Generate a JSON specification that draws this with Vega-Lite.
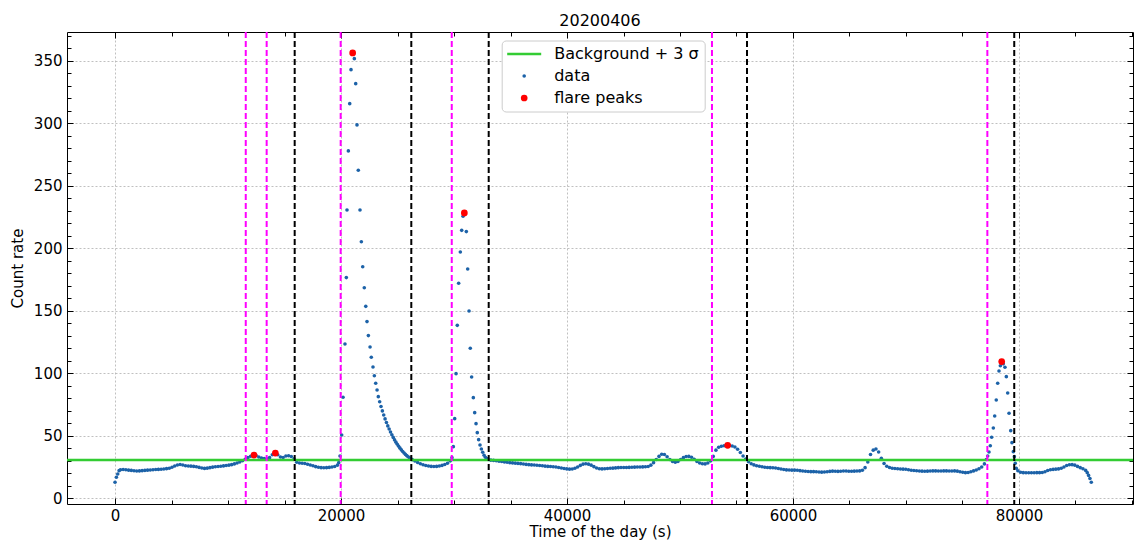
{
  "$schema": "https://vega.github.io/schema/vega-lite/v6.json",
  "width": 1066,
  "height": 472,
  "autosize": {"type": "none"},
  "padding": {"left": 67, "top": 32, "right": 2, "bottom": 39},
  "background": "white",
  "title": {"text": "20200406", "font": "DejaVu Sans", "fontSize": 16, "fontWeight": "normal", "color": "black", "offset": 0},
  "config": {
    "view": {"stroke": null},
    "axis": {"labelFont": "DejaVu Sans", "labelFontSize": 15, "labelColor": "black", "titleFont": "DejaVu Sans", "titleFontSize": 15, "titleFontWeight": "normal", "titleColor": "black", "domainColor": "black", "domainWidth": 1, "tickColor": "black", "tickWidth": 1},
    "legend": {"labelFont": "DejaVu Sans", "labelFontSize": 16, "labelColor": "black"}
  },
  "datasets": {
    "lc": [
      {"t":0,"c":12.8},{"t":120,"c":16.8},{"t":240,"c":19.4},{"t":360,"c":22.1},{"t":480,"c":22.8},{"t":720,"c":23.0},{"t":960,"c":22.8},{"t":1200,"c":22.5},{"t":1440,"c":22.3},{"t":1680,"c":22.0},{"t":1920,"c":21.8},{"t":2160,"c":21.9},{"t":2400,"c":22.1},{"t":2640,"c":22.3},{"t":2880,"c":22.5},{"t":3120,"c":22.6},{"t":3360,"c":22.8},{"t":3600,"c":23.0},{"t":3840,"c":23.1},{"t":4080,"c":23.2},{"t":4320,"c":23.4},{"t":4560,"c":23.7},{"t":4800,"c":24.0},{"t":5040,"c":24.8},{"t":5280,"c":25.8},{"t":5520,"c":26.6},{"t":5760,"c":27.0},{"t":6000,"c":26.6},{"t":6240,"c":26.0},{"t":6480,"c":25.8},{"t":6720,"c":25.7},{"t":6960,"c":25.5},{"t":7200,"c":25.2},{"t":7440,"c":24.7},{"t":7680,"c":24.2},{"t":7920,"c":23.9},{"t":8160,"c":24.1},{"t":8400,"c":24.5},{"t":8640,"c":24.9},{"t":8880,"c":25.2},{"t":9120,"c":25.4},{"t":9360,"c":25.6},{"t":9600,"c":25.9},{"t":9840,"c":26.2},{"t":10080,"c":26.5},{"t":10320,"c":26.9},{"t":10560,"c":27.5},{"t":10800,"c":28.2},{"t":11040,"c":29.0},{"t":11280,"c":30.0},{"t":11520,"c":31.2},{"t":11760,"c":32.5},{"t":12000,"c":33.6},{"t":12240,"c":34.3},{"t":12480,"c":34.2},{"t":12720,"c":33.0},{"t":12960,"c":32.2},{"t":13200,"c":31.8},{"t":13440,"c":31.6},{"t":13680,"c":32.5},{"t":13920,"c":34.8},{"t":14160,"c":35.8},{"t":14400,"c":34.8},{"t":14640,"c":33.0},{"t":14880,"c":32.6},{"t":15120,"c":33.8},{"t":15360,"c":34.0},{"t":15600,"c":33.4},{"t":15840,"c":31.5},{"t":16080,"c":28.8},{"t":16320,"c":28.2},{"t":16560,"c":28.0},{"t":16800,"c":27.8},{"t":17040,"c":27.2},{"t":17280,"c":26.6},{"t":17520,"c":26.0},{"t":17760,"c":25.3},{"t":18000,"c":24.8},{"t":18240,"c":24.5},{"t":18480,"c":24.4},{"t":18720,"c":24.5},{"t":18960,"c":24.7},{"t":19200,"c":25.0},{"t":19440,"c":25.4},{"t":19680,"c":26.5},{"t":19800,"c":28.5},{"t":19910,"c":33.8},
      {"t":20060,"c":50.6},{"t":20180,"c":80.8},{"t":20350,"c":123.4},{"t":20470,"c":176.5},{"t":20530,"c":230.6},{"t":20650,"c":277.8},{"t":20770,"c":315.6},{"t":20885,"c":342.8},{"t":21030,"c":356.2},{"t":21180,"c":351.6},{"t":21300,"c":331.6},{"t":21415,"c":298.6},{"t":21530,"c":262.3},{"t":21680,"c":230.6},{"t":21800,"c":205.2},{"t":21920,"c":185.2},{"t":22060,"c":168.4},{"t":22190,"c":153.5},{"t":22300,"c":141.3},{"t":22420,"c":130.1},{"t":22570,"c":121.0},{"t":22680,"c":112.8},{"t":22830,"c":105.0},{"t":22950,"c":98.0},{"t":23070,"c":92.0},{"t":23190,"c":86.6},{"t":23300,"c":81.3},{"t":23420,"c":77.2},{"t":23540,"c":73.4},{"t":23660,"c":69.9},{"t":23780,"c":66.6},{"t":23900,"c":63.5},{"t":24020,"c":60.6},{"t":24140,"c":57.9},{"t":24260,"c":55.4},{"t":24380,"c":53.0},{"t":24500,"c":50.8},{"t":24620,"c":48.7},{"t":24740,"c":46.7},{"t":24860,"c":44.9},{"t":24980,"c":43.2},{"t":25100,"c":41.6},{"t":25220,"c":40.1},{"t":25340,"c":38.7},{"t":25460,"c":37.4},{"t":25580,"c":36.2},{"t":25700,"c":35.1},{"t":25820,"c":34.1},{"t":25940,"c":33.2},{"t":26060,"c":32.4},{"t":26180,"c":31.6},{"t":26300,"c":30.9},{"t":26540,"c":29.8},{"t":26780,"c":28.6},{"t":27020,"c":27.6},{"t":27260,"c":26.8},{"t":27500,"c":26.2},{"t":27740,"c":25.8},{"t":27980,"c":25.5},{"t":28220,"c":25.4},{"t":28460,"c":25.5},{"t":28700,"c":25.8},{"t":28940,"c":26.3},{"t":29180,"c":27.0},{"t":29420,"c":28.0},{"t":29660,"c":29.8},
      {"t":29820,"c":32.5},{"t":29940,"c":41.3},{"t":30060,"c":63.7},{"t":30180,"c":99.7},{"t":30290,"c":138.3},{"t":30410,"c":172.0},{"t":30560,"c":197.0},{"t":30680,"c":214.3},{"t":30800,"c":225.5},{"t":30945,"c":228.0},{"t":31090,"c":213.3},{"t":31210,"c":183.4},{"t":31330,"c":149.8},{"t":31440,"c":120.0},{"t":31560,"c":97.0},{"t":31710,"c":80.5},{"t":31830,"c":68.5},{"t":31950,"c":59.7},{"t":32060,"c":52.5},{"t":32180,"c":46.9},{"t":32300,"c":42.6},{"t":32420,"c":39.4},{"t":32540,"c":36.8},{"t":32660,"c":34.4},{"t":32780,"c":32.8},{"t":32900,"c":31.8},{"t":33020,"c":31.0},
      {"t":33260,"c":30.5},{"t":33500,"c":30.3},{"t":33740,"c":30.0},{"t":33980,"c":29.7},{"t":34220,"c":29.4},{"t":34460,"c":29.1},{"t":34700,"c":28.8},{"t":34940,"c":28.5},{"t":35180,"c":28.3},{"t":35420,"c":28.1},{"t":35660,"c":27.9},{"t":35900,"c":27.7},{"t":36140,"c":27.4},{"t":36380,"c":27.1},{"t":36620,"c":26.9},{"t":36860,"c":26.7},{"t":37100,"c":26.6},{"t":37340,"c":26.4},{"t":37580,"c":26.2},{"t":37820,"c":26.0},{"t":38060,"c":25.7},{"t":38300,"c":25.5},{"t":38540,"c":25.4},{"t":38780,"c":25.2},{"t":39020,"c":25.0},{"t":39260,"c":24.6},{"t":39500,"c":24.2},{"t":39740,"c":23.8},{"t":39980,"c":23.5},{"t":40220,"c":23.3},{"t":40460,"c":23.4},{"t":40700,"c":24.0},{"t":40940,"c":25.0},{"t":41180,"c":26.3},{"t":41420,"c":27.3},{"t":41660,"c":27.6},{"t":41900,"c":27.3},{"t":42140,"c":26.5},{"t":42380,"c":25.3},{"t":42620,"c":24.2},{"t":42860,"c":23.6},{"t":43100,"c":23.5},{"t":43340,"c":23.6},{"t":43580,"c":23.8},{"t":43820,"c":24.0},{"t":44060,"c":24.1},{"t":44300,"c":24.3},{"t":44540,"c":24.5},{"t":44780,"c":24.6},{"t":45020,"c":24.6},{"t":45260,"c":24.6},{"t":45500,"c":24.7},{"t":45740,"c":24.8},{"t":45980,"c":24.9},{"t":46220,"c":25.0},{"t":46460,"c":25.0},{"t":46700,"c":25.1},{"t":46940,"c":25.2},{"t":47180,"c":25.4},{"t":47420,"c":26.5},{"t":47660,"c":28.5},{"t":47900,"c":31.0},{"t":48140,"c":33.5},{"t":48380,"c":35.2},{"t":48620,"c":35.0},{"t":48860,"c":33.2},{"t":49100,"c":31.0},{"t":49340,"c":29.5},{"t":49580,"c":28.8},{"t":49820,"c":29.5},{"t":50060,"c":31.0},{"t":50300,"c":32.5},{"t":50540,"c":33.4},{"t":50780,"c":33.5},{"t":51020,"c":32.8},{"t":51260,"c":31.2},{"t":51500,"c":29.5},{"t":51740,"c":28.2},{"t":51980,"c":27.6},{"t":52220,"c":27.5},{"t":52460,"c":28.2},{"t":52700,"c":29.8},{"t":52940,"c":33.5},{"t":53180,"c":38.5},{"t":53420,"c":40.8},{"t":53660,"c":41.6},{"t":53900,"c":42.0},{"t":54140,"c":42.3},{"t":54380,"c":42.2},{"t":54620,"c":41.8},{"t":54860,"c":41.0},{"t":55100,"c":39.2},{"t":55340,"c":36.6},{"t":55580,"c":33.8},{"t":55820,"c":31.4},{"t":56060,"c":29.2},{"t":56300,"c":27.6},{"t":56540,"c":26.7},{"t":56780,"c":26.0},{"t":57020,"c":25.6},{"t":57260,"c":25.2},{"t":57500,"c":24.8},{"t":57740,"c":24.6},{"t":57980,"c":24.5},{"t":58220,"c":24.4},{"t":58460,"c":24.2},{"t":58700,"c":23.8},{"t":58940,"c":23.4},{"t":59180,"c":23.0},{"t":59420,"c":22.7},{"t":59660,"c":22.6},{"t":59900,"c":22.5},{"t":60140,"c":22.5},{"t":60380,"c":22.4},{"t":60620,"c":22.1},{"t":60860,"c":21.8},{"t":61100,"c":21.6},{"t":61340,"c":21.4},{"t":61580,"c":21.3},{"t":61820,"c":21.3},{"t":62060,"c":21.2},{"t":62300,"c":21.0},{"t":62540,"c":20.9},{"t":62780,"c":21.0},{"t":63020,"c":21.2},{"t":63260,"c":21.5},{"t":63500,"c":21.7},{"t":63740,"c":21.6},{"t":63980,"c":21.5},{"t":64220,"c":21.6},{"t":64460,"c":21.8},{"t":64700,"c":21.8},{"t":64940,"c":21.6},{"t":65180,"c":21.6},{"t":65420,"c":21.7},{"t":65660,"c":21.8},{"t":65900,"c":21.9},{"t":66140,"c":22.4},{"t":66380,"c":24.5},{"t":66620,"c":29.0},{"t":66860,"c":35.0},{"t":67100,"c":38.5},{"t":67340,"c":39.4},{"t":67580,"c":37.0},{"t":67820,"c":32.0},{"t":68060,"c":27.8},{"t":68300,"c":25.6},{"t":68540,"c":24.6},{"t":68780,"c":24.0},{"t":69020,"c":23.8},{"t":69260,"c":23.6},{"t":69500,"c":23.4},{"t":69740,"c":23.3},{"t":69980,"c":23.2},{"t":70220,"c":22.8},{"t":70460,"c":22.4},{"t":70700,"c":22.2},{"t":70940,"c":22.0},{"t":71180,"c":21.8},{"t":71420,"c":21.7},{"t":71660,"c":21.6},{"t":71900,"c":21.7},{"t":72140,"c":21.8},{"t":72380,"c":21.9},{"t":72620,"c":21.9},{"t":72860,"c":21.8},{"t":73100,"c":21.8},{"t":73340,"c":21.9},{"t":73580,"c":21.9},{"t":73820,"c":21.8},{"t":74060,"c":21.8},{"t":74300,"c":21.9},{"t":74540,"c":21.7},{"t":74780,"c":21.2},{"t":75020,"c":20.8},{"t":75260,"c":20.5},{"t":75500,"c":20.6},{"t":75740,"c":21.2},{"t":75980,"c":21.9},{"t":76220,"c":22.6},{"t":76460,"c":23.6},{"t":76700,"c":25.0},{"t":76940,"c":27.5},{"t":77110,"c":31.0},
      {"t":77230,"c":33.8},{"t":77345,"c":37.0},{"t":77460,"c":42.0},{"t":77580,"c":48.8},{"t":77730,"c":56.2},{"t":77850,"c":65.8},{"t":77990,"c":78.6},{"t":78115,"c":92.0},{"t":78230,"c":101.8},{"t":78350,"c":106.0},{"t":78470,"c":109.3},{"t":78610,"c":107.5},{"t":78760,"c":104.8},{"t":78880,"c":97.3},{"t":79000,"c":84.2},{"t":79120,"c":68.0},{"t":79270,"c":54.1},{"t":79380,"c":44.5},{"t":79500,"c":37.3},{"t":79590,"c":33.3},{"t":79670,"c":28.0},{"t":79760,"c":24.0},
      {"t":79900,"c":22.0},{"t":80140,"c":20.8},{"t":80380,"c":20.5},{"t":80620,"c":20.4},{"t":80860,"c":20.4},{"t":81100,"c":20.4},{"t":81340,"c":20.4},{"t":81580,"c":20.5},{"t":81820,"c":20.5},{"t":82060,"c":20.6},{"t":82300,"c":21.2},{"t":82540,"c":22.2},{"t":82780,"c":22.8},{"t":83020,"c":23.1},{"t":83260,"c":23.3},{"t":83500,"c":23.5},{"t":83740,"c":24.0},{"t":83980,"c":25.0},{"t":84220,"c":26.2},{"t":84460,"c":26.8},{"t":84700,"c":26.9},{"t":84940,"c":26.5},{"t":85180,"c":25.5},{"t":85420,"c":24.5},{"t":85660,"c":23.6},{"t":85900,"c":22.3},{"t":86040,"c":20.5},{"t":86160,"c":18.3},{"t":86280,"c":15.8},{"t":86400,"c":12.8}
    ],
    "peaks": [
      {"t":12300,"c":34.6},{"t":14190,"c":36.2},{"t":21030,"c":356.2},{"t":30915,"c":228.2},{"t":54220,"c":42.4},{"t":78470,"c":109.3}
    ],
    "bg": [{"c": 30.7}],
    "vl": [
      {"t":11570,"k":"start"},{"t":13420,"k":"start"},{"t":19970,"k":"start"},{"t":29800,"k":"start"},{"t":52830,"k":"start"},{"t":77200,"k":"start"},
      {"t":15900,"k":"end"},{"t":26220,"k":"end"},{"t":33070,"k":"end"},{"t":55930,"k":"end"},{"t":79580,"k":"end"}
    ]
  },
  "layer": [
    {
      "data": {"name": "lc"},
      "mark": {"type": "circle", "size": 13, "opacity": 1},
      "encoding": {
        "x": {"field": "t", "type": "quantitative", "scale": {"domain": [-4250, 90090], "nice": false, "zero": false},
          "axis": {"orient": "bottom", "values": [0,5000,10000,15000,20000,25000,30000,35000,40000,45000,50000,55000,60000,65000,70000,75000,80000,85000,90000], "format": "d",
            "labelExpr": "datum.value % 20000 === 0 ? datum.label : ''", "labelOverlap": false, "labelFlush": false,
            "tickSize": {"condition": {"test": "datum.value % 20000 === 0", "value": -6}, "value": -4},
            "labelPadding": 10, "grid": true,
            "gridOpacity": {"condition": {"test": "datum.value % 20000 === 0", "value": 1}, "value": 0},
            "gridColor": "#b0b0b0", "gridDash": [2, 2], "gridWidth": 0.8,
            "title": "Time of the day (s)", "titlePadding": -1}},
        "y": {"field": "c", "type": "quantitative", "scale": {"domain": [-4.56, 372.9], "nice": false, "zero": false},
          "axis": {"orient": "left", "values": [0,10,20,30,40,50,60,70,80,90,100,110,120,130,140,150,160,170,180,190,200,210,220,230,240,250,260,270,280,290,300,310,320,330,340,350,360,370],
            "labelExpr": "datum.value % 50 === 0 ? datum.label : ''", "labelOverlap": false, "labelFlush": false,
            "tickSize": {"condition": {"test": "datum.value % 50 === 0", "value": -6}, "value": -4},
            "labelPadding": 11, "grid": true,
            "gridOpacity": {"condition": {"test": "datum.value % 50 === 0", "value": 1}, "value": 0},
            "gridColor": "#b0b0b0", "gridDash": [2, 2], "gridWidth": 0.8,
            "title": "Count rate", "titlePadding": 8}},
        "color": {"datum": "data", "type": "nominal",
          "scale": {"domain": ["Background + 3 σ", "data", "flare peaks"], "range": ["#33cc33", "#1c62a8", "#ff0000"]},
          "legend": {"orient": "none", "legendX": 434.7, "legendY": 8.5, "title": null,
            "fillColor": "white", "strokeColor": "#cccccc", "cornerRadius": 4, "padding": 5.5, "rowPadding": 6,
            "symbolOffset": 9, "labelOffset": 22,
            "symbolType": {"expr": "datum.value === 'data' || datum.value === 'flare peaks' ? 'circle' : 'stroke'"},
            "symbolSize": {"expr": "datum.value === 'data' ? 13 : (datum.value === 'flare peaks' ? 45 : 1156)"},
            "symbolStrokeColor": {"expr": "scale('color', datum.value)"},
            "symbolStrokeWidth": {"expr": "datum.value === 'data' || datum.value === 'flare peaks' ? 0 : 2.5"}}}
      }
    },
    {
      "data": {"name": "bg"},
      "mark": {"type": "rule", "strokeWidth": 2.5},
      "encoding": {
        "y": {"field": "c", "type": "quantitative", "scale": {"domain": [-4.56, 372.9], "nice": false, "zero": false},
          "axis": {"orient": "right", "values": [0,10,20,30,40,50,60,70,80,90,100,110,120,130,140,150,160,170,180,190,200,210,220,230,240,250,260,270,280,290,300,310,320,330,340,350,360,370],
            "labels": false, "grid": false, "title": null,
            "tickSize": {"condition": {"test": "datum.value % 50 === 0", "value": -6}, "value": -4}}},
        "color": {"datum": "Background + 3 σ", "type": "nominal"}
      }
    },
    {
      "data": {"name": "vl"},
      "mark": {"type": "rule", "strokeWidth": 2, "strokeDash": [6, 3]},
      "encoding": {
        "x": {"field": "t", "type": "quantitative", "scale": {"domain": [-4250, 90090], "nice": false, "zero": false},
          "axis": {"orient": "top", "values": [0,5000,10000,15000,20000,25000,30000,35000,40000,45000,50000,55000,60000,65000,70000,75000,80000,85000,90000],
            "labels": false, "grid": false, "title": null,
            "tickSize": {"condition": {"test": "datum.value % 20000 === 0", "value": -6}, "value": -4}}},
        "stroke": {"field": "k", "type": "nominal", "scale": {"domain": ["start", "end"], "range": ["#ff00ff", "#000000"]}, "legend": null}
      }
    },
    {
      "data": {"name": "peaks"},
      "mark": {"type": "circle", "size": 45, "opacity": 1},
      "encoding": {
        "x": {"field": "t", "type": "quantitative", "scale": {"domain": [-4250, 90090], "nice": false, "zero": false}, "axis": null},
        "y": {"field": "c", "type": "quantitative", "scale": {"domain": [-4.56, 372.9], "nice": false, "zero": false}, "axis": null},
        "color": {"datum": "flare peaks", "type": "nominal"}
      }
    }
  ],
  "resolve": {"axis": {"x": "independent", "y": "independent"}}
}
